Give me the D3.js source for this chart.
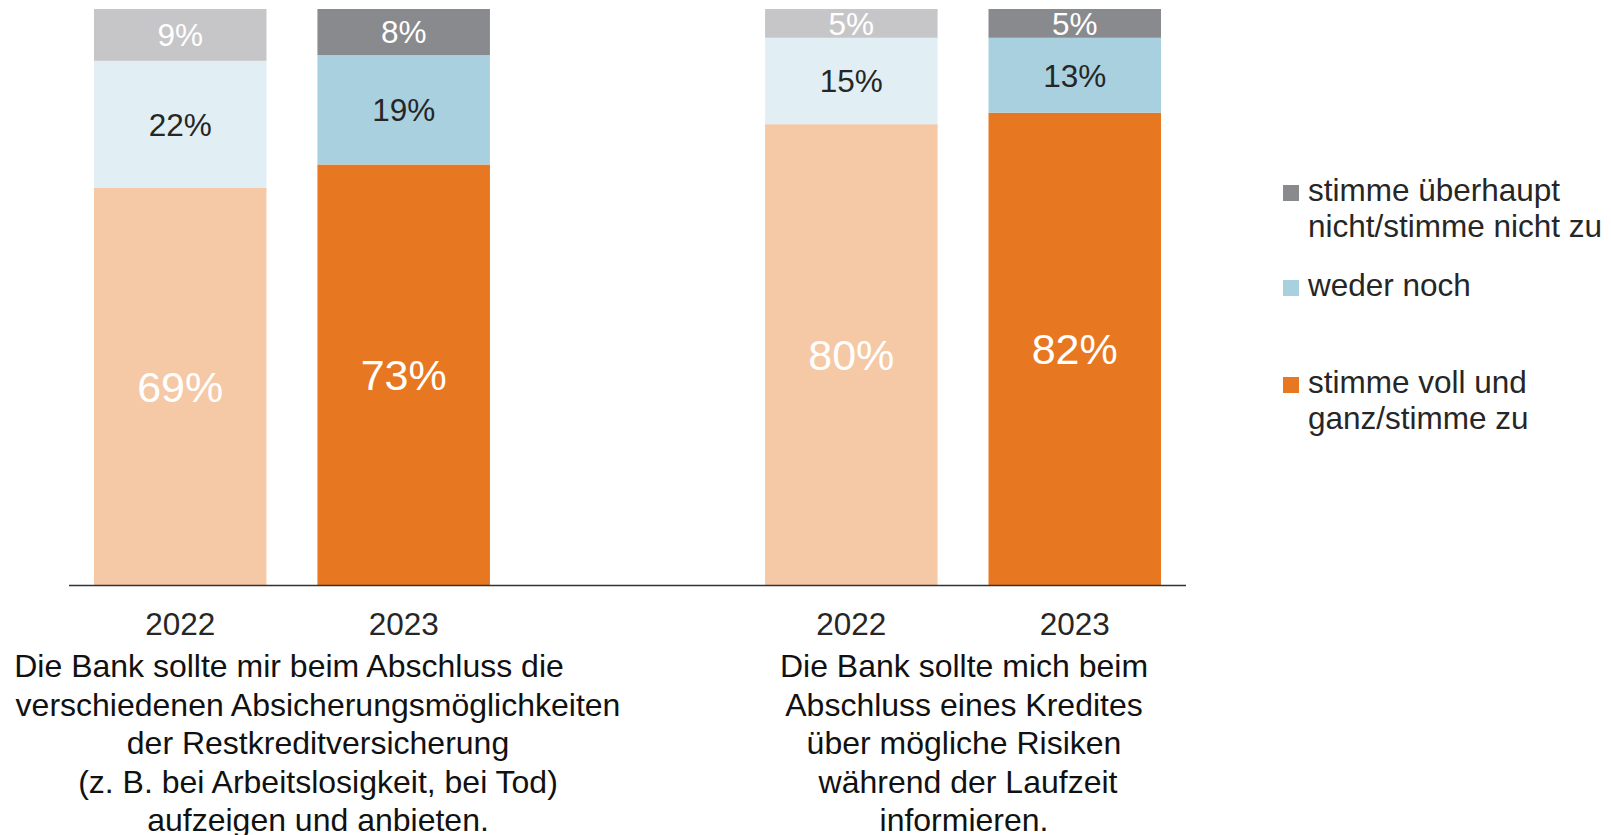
<!DOCTYPE html>
<html>
<head>
<meta charset="utf-8">
<script src="https://cdn.jsdelivr.net/npm/d3@7"></script>
<style>
  body { margin: 0; background: #fff; }
  svg text { font-family: 'Liberation Sans', Arial, sans-serif; }
</style>
</head>
<body>
<div id="chart"></div>
<script>
'use strict'

// data
var groups = ['g1', 'g2']
var years = ['2022', '2023']
var series = ['zu', 'weder', 'nicht']
var valuesZu = [[69, 73], [80, 82]]
var valuesWeder = [[22, 19], [15, 13]]
var valuesNicht = [[9, 8], [5, 5]]
var legendLabels = [
  ['stimme überhaupt', 'nicht/stimme nicht zu'],
  ['weder noch'],
  ['stimme voll und', 'ganz/stimme zu']
]
var captions = [
  ['Die Bank sollte mir beim Abschluss die', 'verschiedenen Absicherungsmöglichkeiten', 'der Restkreditversicherung', '(z. B. bei Arbeitslosigkeit, bei Tod)', 'aufzeigen und anbieten.'],
  ['Die Bank sollte mich beim', 'Abschluss eines Kredites', 'über mögliche Risiken', 'während der Laufzeit', 'informieren.']
]

var colors = {
  '2022': { zu: '#f5c9a6', weder: '#e1eff4', nicht: '#c6c6c8' },
  '2023': { zu: '#e87722', weder: '#a9d0df', nicht: '#888a8d' }
}
var labelColors = { zu: '#ffffff', weder: '#262626', nicht: '#ffffff' }

var width = 1611
var height = 835

var svg = d3.select('#chart')
  .append('svg')
  .attr('width', width)
  .attr('height', height)

var x = d3.scaleBand().domain(groups).range([94, 1161]).paddingInner(0.41)
var xi = d3.scaleBand().domain(years).range([0, x.bandwidth()]).paddingInner(0.228)
var y = d3.scaleLinear().domain([0, 100]).range([585, 9])

// flatten stacked data
var rows = []
groups.forEach(function(g, gi) {
  years.forEach(function(yr, yi) {
    var vals = { zu: valuesZu[gi][yi], weder: valuesWeder[gi][yi], nicht: valuesNicht[gi][yi] }
    var base = 0
    series.forEach(function(s) {
      rows.push({ group: g, year: yr, key: s, y0: base, y1: base + vals[s], value: vals[s] })
      base += vals[s]
    })
  })
})

var bar = svg.selectAll('g.seg')
  .data(rows)
  .enter()
  .append('g')
  .attr('class', 'seg')

bar.append('rect')
  .attr('x', function(d) { return x(d.group) + xi(d.year) })
  .attr('y', function(d) { return y(d.y1) })
  .attr('width', xi.bandwidth())
  .attr('height', function(d) { return y(d.y0) - y(d.y1) })
  .attr('fill', function(d) { return colors[d.year][d.key] })

bar.append('text')
  .attr('x', function(d) { return x(d.group) + xi(d.year) + xi.bandwidth() / 2 })
  .attr('y', function(d) { return (y(d.y0) + y(d.y1)) / 2 })
  .attr('dy', '0.36em')
  .attr('text-anchor', 'middle')
  .attr('font-size', function(d) { return d.key === 'zu' ? '43px' : '31.5px' })
  .attr('fill', function(d) { return labelColors[d.key] })
  .text(function(d) { return d.value + '%' })

// baseline
svg.append('line')
  .attr('x1', 69)
  .attr('x2', 1186)
  .attr('y1', y(0) + 0.5)
  .attr('y2', y(0) + 0.5)
  .attr('stroke', '#333')
  .attr('stroke-width', 1.3)

// year labels
groups.forEach(function(g) {
  svg.selectAll(null)
    .data(years)
    .enter()
    .append('text')
    .attr('x', function(d) { return x(g) + xi(d) + xi.bandwidth() / 2 })
    .attr('y', 635)
    .attr('text-anchor', 'middle')
    .attr('font-size', '31.5px')
    .attr('fill', '#262626')
    .text(function(d) { return d })
})

// captions
var captionX = [[289, 318, 318, 318, 318], [964, 964, 964, 968, 964]]
captions.forEach(function(lines, ci) {
  svg.append('g')
    .selectAll('text')
    .data(lines)
    .enter()
    .append('text')
    .attr('x', function(d, i) { return captionX[ci][i] })
    .attr('y', function(d, i) { return 677 + i * 38.5 })
    .attr('text-anchor', 'middle')
    .attr('font-size', '32px')
    .attr('fill', '#111')
    .text(function(d) { return d })
})

// legend
var legendKeys = ['nicht', 'weder', 'zu']
var legendY = [201, 296, 393]
var legend = svg.selectAll('g.legend')
  .data(legendKeys)
  .enter()
  .append('g')
  .attr('class', 'legend')
  .attr('transform', function(d, i) { return 'translate(1283,' + legendY[i] + ')' })

legend.append('rect')
  .attr('x', 0)
  .attr('y', -16)
  .attr('width', 16)
  .attr('height', 16)
  .attr('fill', function(d) { return colors['2023'][d] })

legend.append('text')
  .attr('font-size', '31.5px')
  .attr('fill', '#262626')
  .selectAll('tspan')
  .data(function(d, i) { return legendLabels[i] })
  .enter()
  .append('tspan')
  .attr('x', 25)
  .attr('y', function(d, i) { return i * 36 })
  .text(function(d) { return d })
</script>
</body>
</html>
